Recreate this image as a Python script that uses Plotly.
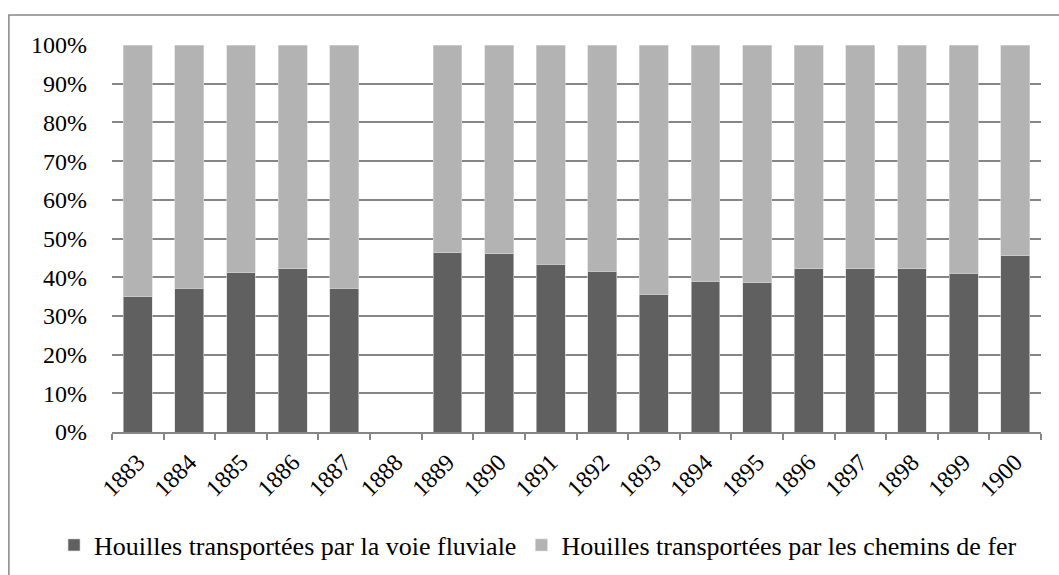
import plotly.graph_objects as go

# coal shipments, share by transport mode
years = ["1883", "1884", "1885", "1886", "1887", "1888", "1889", "1890", "1891",
         "1892", "1893", "1894", "1895", "1896", "1897", "1898", "1899", "1900"]
fluviale = [35.0, 37.2, 41.1, 42.2, 37.2, None, 46.3, 46.0, 43.4,
            41.6, 35.6, 38.9, 38.6, 42.2, 42.2, 42.2, 41.0, 45.5]
chemins_fer = [None if v is None else 100 - v for v in fluviale]

serif = "Liberation Serif, DejaVu Serif, serif"

fig = go.Figure()
fig.add_trace(go.Bar(x=years, y=fluviale, name="Houilles transportées par la voie fluviale",
                     marker=dict(color="#606060", line=dict(color="#d9d9d9", width=0.6))))
fig.add_trace(go.Bar(x=years, y=chemins_fer, name="Houilles transportées par les chemins de fer",
                     marker=dict(color="#b3b3b3", line=dict(color="#d9d9d9", width=0.6))))

fig.update_layout(
    barmode="stack",
    bargap=0.44,
    width=1059, height=575,
    margin=dict(l=112, r=18, t=45, b=143, autoexpand=False),
    paper_bgcolor="white", plot_bgcolor="white",
    font=dict(family=serif, size=24, color="black"),
    # anchored left of the plot area so the legend may use the full width on one row
    legend=dict(orientation="h", traceorder="normal",
                x=-0.0624, xanchor="left", y=-0.292, yanchor="middle",
                font=dict(family=serif, size=26), itemwidth=30),
    shapes=[dict(type="rect", xref="paper", yref="paper",
                 x0=-0.111, x1=1.1, y0=-0.5, y1=1.0775,
                 line=dict(color="#868686", width=1.5), layer="below")],
)
fig.update_xaxes(type="category", tickangle=-45, tickson="boundaries",
                 ticks="outside", ticklen=6, tickcolor="#868686", tickwidth=1.5,
                 ticklabelstandoff=5, tickfont=dict(family=serif, size=24),
                 showline=True, linecolor="#868686", linewidth=1.5, showgrid=False)
fig.update_yaxes(range=[0, 100], dtick=10, ticksuffix="%", ticks="",
                 ticklabelstandoff=24, tickfont=dict(family=serif, size=24),
                 showline=False, showgrid=True, gridcolor="#868686", gridwidth=1.5,
                 zeroline=False)

fig.write_html("out.html", config={"displayModeBar": False},
               post_script="document.body.style.margin = '0';")
